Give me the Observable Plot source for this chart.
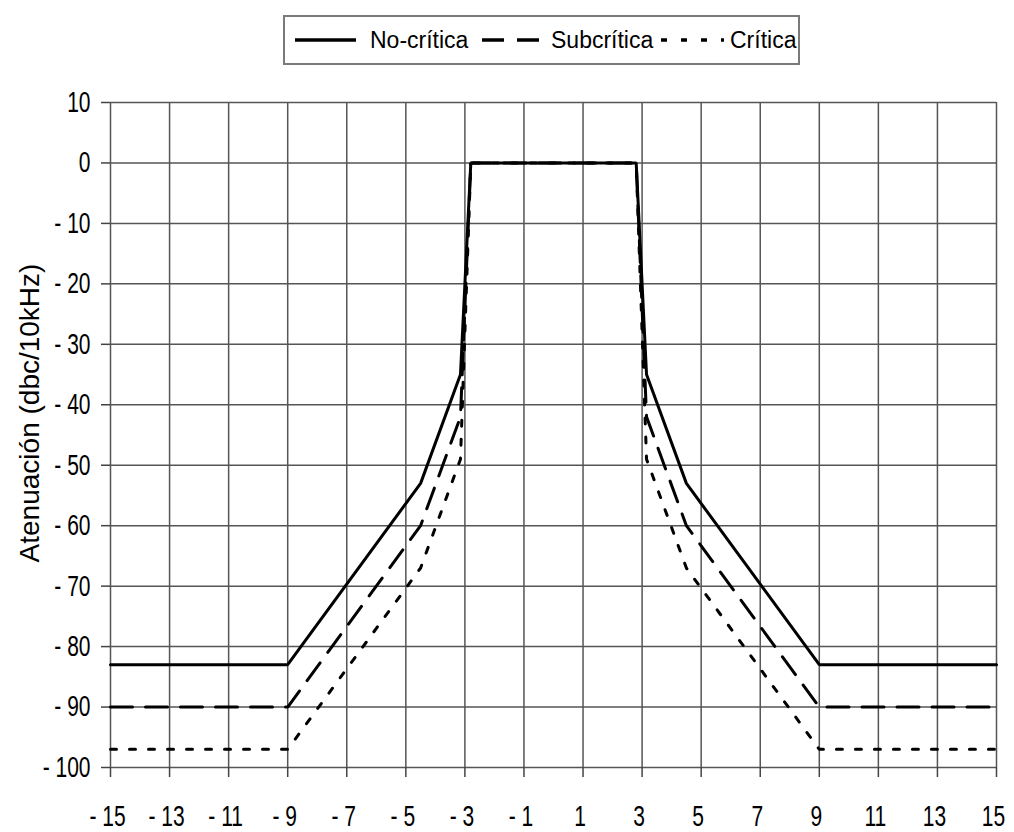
<!DOCTYPE html>
<html>
<head>
<meta charset="utf-8">
<script src="https://cdn.jsdelivr.net/npm/d3@7"></script>
<script src="https://cdn.jsdelivr.net/npm/@observablehq/plot@0.6"></script>
<style>
  html, body { margin: 0; padding: 0; background: #fff; }
  #wrap { position: relative; width: 1014px; height: 832px; overflow: hidden; }
  #legend {
    position: absolute; left: 283px; top: 15px; width: 517px; height: 50px;
    box-sizing: border-box; border: 2px solid #7a7a7a; background: #fff;
    font-family: "Liberation Sans", Arial, sans-serif; font-size: 23px; color: #000;
  }
  #legend .item { position: absolute; top: 0; height: 46px; line-height: 46px; white-space: nowrap; }
  #legend svg { position: absolute; top: 18px; }
  #chart { position: absolute; left: 0; top: 70px; }
</style>
</head>
<body>
<div id="wrap">
  <div id="legend"></div>
  <div id="chart"></div>
</div>
<script>
// ---- data ----
const seriesNames = ["No-crítica", "Subcrítica", "Crítica"];
const xNoCritica = [-15, -9, -4.5, -3.15, -2.8, 2.8, 3.15, 4.5, 9, 15];
const yNoCritica = [-83, -83, -53, -35, 0, 0, -35, -53, -83, -83];
const xSubcritica = [-15, -9, -4.5, -3.15, -2.8, 2.8, 3.15, 4.5, 9, 15];
const ySubcritica = [-90, -90, -60, -42, 0, 0, -42, -60, -90, -90];
const xCritica = [-15, -9, -4.5, -3.15, -2.8, 2.8, 3.15, 4.5, 9, 15];
const yCritica = [-97, -97, -67, -49, 0, 0, -49, -67, -97, -97];
const xTicks = [-15, -13, -11, -9, -7, -5, -3, -1, 1, 3, 5, 7, 9, 11, 13, 15];
const yTicks = [10, 0, -10, -20, -30, -40, -50, -60, -70, -80, -90, -100];
const yLabel = "Atenuación (dbc/10kHz)";

const dashes = ["none", "22,13", "6,13"];

const toRows = (xs, ys, name) => xs.map((x, i) => ({x, y: ys[i], serie: name}));
const rows = [
  toRows(xNoCritica, yNoCritica, seriesNames[0]),
  toRows(xSubcritica, ySubcritica, seriesNames[1]),
  toRows(xCritica, yCritica, seriesNames[2])
];

const fmt = d => d < 0 ? "- " + Math.abs(d) : String(d);
const font = "'Liberation Sans', Arial, sans-serif";
const gridStyle = {stroke: "#555", strokeOpacity: 1, strokeWidth: 1.5};

const chart = Plot.plot({
  width: 1014,
  height: 762,
  marginTop: 32,
  marginBottom: 65,
  marginLeft: 110,
  marginRight: 18,
  x: {domain: [-15, 15]},
  y: {domain: [-100, 10]},
  style: {fontFamily: font, fontSize: "21px", color: "#000", background: "#fff"},
  marks: [
    Plot.gridX(xTicks, gridStyle),
    Plot.gridY(yTicks, gridStyle),
    Plot.axisX(xTicks, {tickSize: 10, tickFormat: () => "", label: null, stroke: "#444", strokeWidth: 1.5}),
    Plot.axisX(xTicks, {tickSize: 0, tickPadding: 38, tickFormat: fmt, label: null, dx: -3}),
    Plot.axisY(yTicks, {tickSize: 9, tickPadding: 11, tickFormat: fmt, label: null, stroke: "#444", strokeWidth: 1.5}),
    Plot.text([yLabel], {
      text: d => d, frameAnchor: "left", textAnchor: "middle", rotate: -90, dx: -80, dy: -22,
      fontSize: 28, fontFamily: font, fill: "#000"
    }),
    Plot.line(rows[2], {x: "x", y: "y", stroke: "#000", strokeWidth: 3, strokeDasharray: dashes[2], strokeLinejoin: "miter"}),
    Plot.line(rows[1], {x: "x", y: "y", stroke: "#000", strokeWidth: 3, strokeDasharray: dashes[1], strokeLinejoin: "miter"}),
    Plot.line(rows[0], {x: "x", y: "y", stroke: "#000", strokeWidth: 3, strokeDasharray: dashes[0], strokeLinejoin: "miter"})
  ]
});

// stretch tick labels vertically like the reference's tall glyphs
function stretch(sel, scale) {
  chart.querySelectorAll(sel).forEach(t => {
    let tr = t.getAttribute("transform");
    if (!tr) {
      const x = t.getAttribute("x") || 0, y = t.getAttribute("y") || 0;
      tr = `translate(${x},${y})`;
      t.removeAttribute("x"); t.removeAttribute("y");
    }
    t.setAttribute("transform", tr + " " + scale);
  });
}
stretch('g[aria-label="x-axis tick label"] text', "scale(1,1.4)");
stretch('g[aria-label="y-axis tick label"] text', "scale(1,1.4)");

document.getElementById("chart").appendChild(chart);

// ---- legend ----
const legend = document.getElementById("legend");
const layout = [
  {sx: 10, sw: 61, tx: 85},
  {sx: 197, sw: 59, tx: 266},
  {sx: 376, sw: 63, tx: 445}
];
const legendDash = ["none", "22,13", "6,14"];
seriesNames.forEach((name, i) => {
  const L = layout[i];
  const svg = document.createElementNS("http://www.w3.org/2000/svg", "svg");
  svg.setAttribute("width", L.sw);
  svg.setAttribute("height", 10);
  svg.style.left = L.sx + "px";
  const line = document.createElementNS("http://www.w3.org/2000/svg", "line");
  line.setAttribute("x1", 0); line.setAttribute("x2", L.sw);
  line.setAttribute("y1", 5); line.setAttribute("y2", 5);
  line.setAttribute("stroke", "#000"); line.setAttribute("stroke-width", 3.5);
  if (legendDash[i] !== "none") line.setAttribute("stroke-dasharray", legendDash[i]);
  svg.appendChild(line);
  legend.appendChild(svg);
  const span = document.createElement("span");
  span.className = "item";
  span.style.left = L.tx + "px";
  span.textContent = name;
  legend.appendChild(span);
});
</script>
</body>
</html>
